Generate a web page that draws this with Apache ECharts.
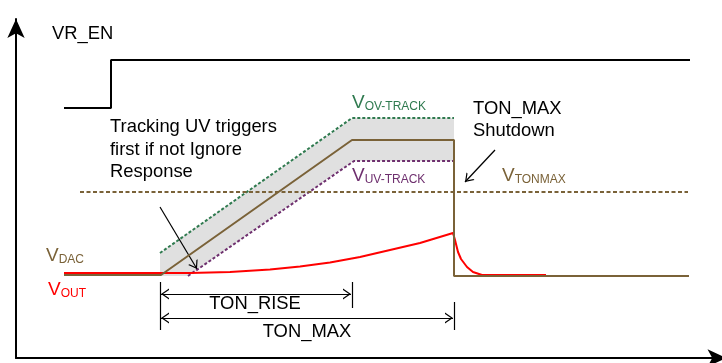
<!DOCTYPE html>
<html><head><meta charset="utf-8">
<script src="https://cdn.jsdelivr.net/npm/echarts@6/dist/echarts.min.js"></script>
<style>html,body{margin:0;padding:0;background:#fff}#c{width:722px;height:363px}</style>
</head><body><div id="c"></div>
<script>
// ---- data (time units along x, signal level along y) ----
const vrEnT = [48, 95, 95, 674];
const vrEnV = [250, 250, 298, 298];
const vdacT = [48, 145, 336, 438, 438, 673];
const vdacV = [83, 83, 218, 218, 82, 82];
const ovTrackT = [144, 336, 438];
const ovTrackV = [105, 240, 240];
const uvTrackT = [172, 338, 438];
const uvTrackV = [82, 197, 197];
const bandT = [144, 172, 337, 438];
const bandLow = [82, 82, 197, 197];
const bandHigh = [105, 125, 240, 240];
const tonmaxT = [64, 672];
const tonmaxV = [166, 166];
const voutT = [48, 174, 214, 254, 284, 314, 344, 374, 404, 437, 439, 442, 445, 451, 457, 466, 530];
const voutV = [85, 85, 86, 88.5, 91.5, 95.5, 101, 108, 115, 125, 118, 106, 99, 91, 86, 83, 83];
// timing markers
const tStart = 144, tRiseEnd = 336, tMaxEnd = 438;
const dimTickTop = 76, dimRiseBottom = 50, dimMaxTop = 56, dimBottom = 28;
const dimRiseLevel = 64, dimMaxLevel = 40;
const uvArrow = [[144, 151], [181, 89]];
const shutArrow = [[479, 208], [449, 176]];

const zip = (a, b) => a.map((x, i) => [x, b[i]]);
const FONT = '"Liberation Sans", Arial, Helvetica, sans-serif';
const BROWN = '#7a6238', GREEN = '#2f7a4f', PURPLE = '#6e2f6e', RED = '#ff0000';
const CHEV = 'path://M0,10 L6,0 L12,10 L10.4,10 L6,2.6 L1.6,10 Z';
const arrowEnd = {symbol: CHEV, symbolSize: [11, 8], symbolOffset: [0, 4]};

function line(name, t, v, color, width, type, z) {
  return {name, type: 'line', data: zip(t, v), symbol: 'none', z: z || 2,
    lineStyle: {color, width, type: type || 'solid'}, animation: false, silent: true};
}

const chart = echarts.init(document.getElementById('c'), null, {renderer: 'canvas'});

const dims = [
  [{coord: [tStart, dimTickTop]}, {coord: [tStart, dimBottom]}],
  [{coord: [tRiseEnd, dimTickTop]}, {coord: [tRiseEnd, dimRiseBottom]}],
  [{coord: [tMaxEnd, dimMaxTop]}, {coord: [tMaxEnd, dimBottom]}],
  [Object.assign({coord: [tStart + 1, dimRiseLevel]}, arrowEnd), Object.assign({coord: [tRiseEnd - 1, dimRiseLevel]}, arrowEnd)],
  [Object.assign({coord: [tStart + 1, dimMaxLevel]}, arrowEnd), Object.assign({coord: [tMaxEnd - 1, dimMaxLevel]}, arrowEnd)],
  [{coord: uvArrow[0]}, Object.assign({coord: uvArrow[1]}, arrowEnd)],
  [{coord: shutArrow[0]}, Object.assign({coord: shutArrow[1]}, arrowEnd)]
];

function sub(x, y, main, subs, color) {
  return {type: 'text', x, y, z: 100, silent: true, style: {
    text: '{a|' + main + '}{b|' + subs + '}', textVerticalAlign: 'middle',
    rich: {a: {font: '19px ' + FONT, fill: color, verticalAlign: 'bottom'},
           b: {font: '12px ' + FONT, fill: color, verticalAlign: 'bottom'}}}};
}
function txt(x, y, s, align) {
  return {type: 'text', x, y, z: 100, silent: true, style: {text: s, font: '18.4px ' + FONT, fill: '#000',
    textAlign: align || 'left', textVerticalAlign: 'middle'}};
}

chart.setOption({
  animation: false,
  backgroundColor: '#fff',
  grid: {left: 16, right: 0, top: 19, bottom: 5},
  xAxis: {type: 'value', min: 0, max: 706, splitLine: {show: false}, axisTick: {show: false}, axisLabel: {show: false},
    axisLine: {onZero: false, lineStyle: {color: '#000', width: 2}, symbol: ['none', 'arrow'], symbolSize: [13, 19], symbolOffset: [0, 4.5]}},
  yAxis: {type: 'value', min: 0, max: 339, splitLine: {show: false}, axisTick: {show: false}, axisLabel: {show: false},
    axisLine: {onZero: false, lineStyle: {color: '#000', width: 2}, symbol: ['none', 'arrow'], symbolSize: [13, 19]}},
  series: [
    {name: 'band', type: 'custom', z: 1, silent: true,
      data: bandT.map((t, i) => [t, bandLow[i], bandHigh[i]]),
      encode: {x: 0, y: [1, 2]},
      renderItem: function (params, api) {
        if (params.dataIndex !== 0) return null;
        const top = bandT.map((t, i) => api.coord([t, bandHigh[i]]));
        const bot = bandT.map((t, i) => api.coord([t, bandLow[i]])).reverse();
        return {type: 'polygon', shape: {points: top.concat(bot)}, style: {fill: '#e0e0e0'}};
      }},
    line('VOV-TRACK', ovTrackT, ovTrackV, GREEN, 2, [3, 2], 3),
    line('VUV-TRACK', uvTrackT, uvTrackV, PURPLE, 2, [3, 2], 3),
    line('VTONMAX', tonmaxT, tonmaxV, BROWN, 2, [4, 2.5], 3),
    line('VOUT', voutT, voutV, RED, 2, 'solid', 4),
    line('VDAC', vdacT, vdacV, BROWN, 2, 'solid', 5),
    line('VR_EN', vrEnT, vrEnV, '#000', 2, 'solid', 5),
    {name: 'annot', type: 'line', data: [], silent: true, z: 6,
      markLine: {silent: true, animation: false, symbol: ['none', 'none'], label: {show: false},
        lineStyle: {color: '#000', width: 1.2, type: 'solid'}, emphasis: {disabled: true}, data: dims}}
  ],
  graphic: [
    txt(52, 34, 'VR_EN'),
    txt(110, 127, 'Tracking UV triggers'),
    txt(110, 149.5, 'first if not Ignore'),
    txt(110, 172, 'Response'),
    txt(473, 109, 'TON_MAX'),
    txt(473, 131, 'Shutdown'),
    txt(255, 304, 'TON_RISE', 'center'),
    txt(307, 332, 'TON_MAX', 'center'),
    sub(352, 103, 'V', 'OV-TRACK', GREEN),
    sub(352, 176, 'V', 'UV-TRACK', PURPLE),
    sub(502, 176, 'V', 'TONMAX', BROWN),
    sub(46, 256, 'V', 'DAC', BROWN),
    sub(48, 290, 'V', 'OUT', RED)
  ]
});
</script></body></html>
